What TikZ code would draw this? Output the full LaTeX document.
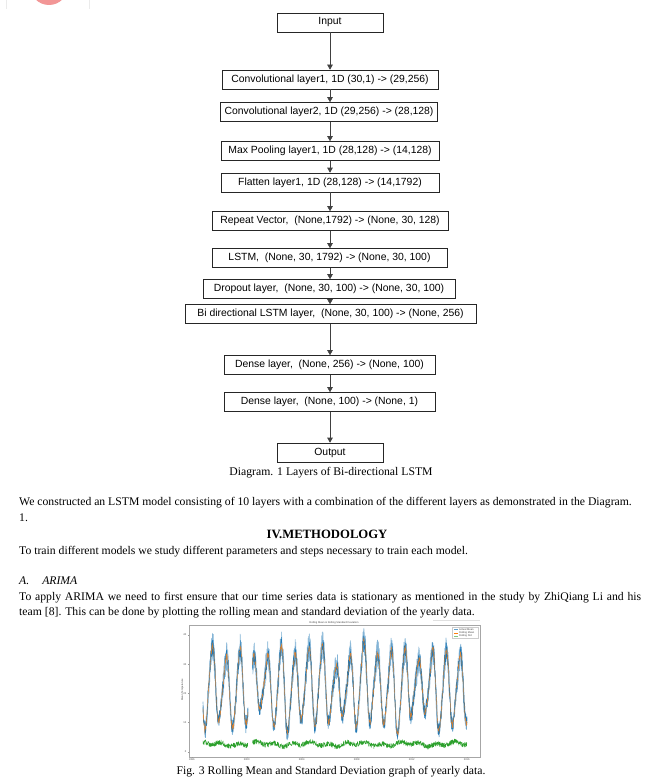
\documentclass[tikz,border=0pt]{standalone}
\usepackage{fontspec}
\setmainfont{Liberation Serif}
\newfontfamily\arialf{Liberation Sans}
\usetikzlibrary{arrows.meta}
\definecolor{cblue}{HTML}{1F77B4}
\definecolor{corange}{HTML}{FF7F0E}
\definecolor{cgreen}{HTML}{2CA02C}
\definecolor{logopink}{RGB}{242,150,150}
\begin{document}
\begin{tikzpicture}[x=1pt,y=-1pt,
  declare function={tb(\t)=\t-191.7;
    wav(\t)=22-(12+2.5*sin(tb(\t)*9.1)+1.5*sin(tb(\t)*4.3))*cos(tb(\t)*26.1818)+1.5*sin(tb(\t)*52.3636)+1.2*sin(tb(\t)*6.7);
    yv(\v)=751.7-2.92*\v;},
  layer/.style={draw=black!85, line width=0.6pt, font=\arialf\fontsize{10.4}{12}\selectfont, inner sep=0pt, minimum height=19pt, anchor=center},
  flow/.style={draw=black!75, line width=0.6pt, -{Triangle[length=5pt,width=5.5pt]}},
  body/.style={font=\fontsize{11.7}{13.5}\selectfont, anchor=base west, inner sep=0pt},
  captxt/.style={font=\fontsize{11.7}{13.5}\selectfont, inner sep=0pt, anchor=base},
  tinytxt/.style={font=\arialf\fontsize{2.6}{3}\selectfont, inner sep=0pt, text=black!70}]
\useasboundingbox (0,0) rectangle (662,784);
\fill[white] (0,0) rectangle (662,784);
% logo remnant
\begin{scope}
\clip (0,0) rectangle (662,9);
\draw[black!8, line width=0.5pt] (6,-5) rectangle (89,9);
\fill[logopink] (49,-14) circle (19);
\end{scope}
% layers
\node[layer, minimum width=106pt] (in) at (330,22.5) {Input};
\node[layer, minimum width=216pt] (c1) at (330,79.5) {Convolutional layer1, 1D (30,1) -> (29,256)};
\node[layer, minimum width=217pt] (c2) at (329,112) {Convolutional layer2, 1D (29,256) -> (28,128)};
\node[layer, minimum width=218pt] (mp) at (330,151) {Max Pooling layer1, 1D (28,128) -> (14,128)};
\node[layer, minimum width=218pt] (fl) at (330,182.5) {Flatten layer1, 1D (28,128) -> (14,1792)};
\node[layer, minimum width=236pt] (rv) at (330,221) {Repeat Vector,\ \ (None,1792) -> (None, 30, 128)};
\node[layer, minimum width=235pt] (ls) at (329.5,258) {LSTM,\ \ (None, 30, 1792) -> (None, 30, 100)};
\node[layer, minimum width=252pt] (dr) at (329,289) {Dropout layer,\ \ (None, 30, 100) -> (None, 30, 100)};
\node[layer, minimum width=291pt] (bi) at (330.5,314) {Bi directional LSTM layer,\ \ (None, 30, 100) -> (None, 256)};
\node[layer, minimum width=211pt] (d1) at (329.5,365) {Dense layer,\ \ (None, 256) -> (None, 100)};
\node[layer, minimum width=211pt] (d2) at (329.5,402) {Dense layer,\ \ (None, 100) -> (None, 1)};
\node[layer, minimum width=106pt] (out) at (330,452.5) {Output};
\foreach \a/\b in {in/c1,c1/c2,c2/mp,mp/fl,fl/rv,rv/ls,ls/dr,dr/bi,bi/d1,d1/d2,d2/out}
  \draw[flow] (\a.south -| in.south) -- (in.south |- \b.north);
\node[captxt] (cap1) at (331,475) {Diagram. 1 Layers of Bi-directional LSTM};
% body text
\node[body] (t1) at (19,505) {We constructed an LSTM model consisting of 10 layers with a combination of the different layers as demonstrated in the Diagram.};
\node[body] (t2) at (19,521) {1.};
\node[font=\bfseries\fontsize{12.7}{14}\selectfont, inner sep=0pt, anchor=base] (h1) at (327,538.5) {IV.METHODOLOGY};
\node[body] (t3) at (19,554) {To train different models we study different parameters and steps necessary to train each model.};
\node[body] (t4) at (19,584) {\textit{A.}\hspace{13pt}\textit{ARIMA}};
\node[body] (t5) at (19,600) {\makebox[622pt][s]{To apply ARIMA we need to first ensure that our time series data is stationary as mentioned in the study by ZhiQiang Li and his}};
\node[body] (t6) at (19,615.5) {team [8]. This can be done by plotting the rolling mean and standard deviation of the yearly data.};
% chart
\draw[black!12, line width=0.6pt] (433,620) -- (480,620);
\draw[black!35, line width=0.4pt] (189,625) rectangle (480,757);
\node[tinytxt] (ctitle) at (334,622.5) {Rolling Mean \& Rolling Standard Deviation};
\foreach \v/\yy in {0/751.7,10/722.5,20/693.3,30/664.1,40/634.9}{
  \draw[black!40, line width=0.2pt] (189,\yy) -- (187.8,\yy);
  \node[tinytxt, anchor=east] at (186.5,\yy) {\v};
}
\foreach \yr/\xx in {1996/191.7,2000/246.7,2004/301.7,2008/356.7,2012/411.7,2016/466.7}{
  \draw[black!40, line width=0.2pt] (\xx,757) -- (\xx,758.2);
  \node[tinytxt, anchor=north] at (\xx,758.8) {\yr};
}
\node[tinytxt, rotate=90] (ylab) at (182.5,690) {Mean Temperature};
\pgfmathsetseed{11}
\begin{scope}
\clip (189.3,625.3) rectangle (479.7,756.7);
\foreach \da/\db/\ns in {203/248/220, 252.5/467/1000}{
  \draw[cblue!40, line width=0.8pt, line join=round] plot[domain=\da:\db, samples=\ns] (\x,{yv(wav(\x)+(2+3*(1-cos(tb(\x)*26.1818))/2)*rand)});
  \draw[cblue!55!white, line width=0.6pt, line join=round] plot[domain=\da:\db, samples=\ns] (\x,{yv(wav(\x)+(2+3*(1-cos(tb(\x)*26.1818))/2)*rand)});
  \draw[cblue, line width=0.45pt, line join=round] plot[domain=\da:\db, samples=\ns] (\x,{yv(wav(\x)+3*rand)});
  \draw[corange, opacity=0.75, line width=0.4pt, line join=round] plot[domain=\da:\db, samples=\ns] (\x,{yv(wav(\x)+1.3*rand)});
  \draw[cgreen, line width=0.4pt, line join=round] plot[domain=\da:\db, samples=\ns] (\x,{yv(2.6+0.5*sin(\x*20)+0.4*sin(\x*7.3)+0.9*rand)});
}
\end{scope}
% legend
\draw[black!20, fill=white, line width=0.3pt] (452.5,627) rectangle (478.5,638.5);
\draw[cblue!70, line width=0.6pt] (454,629.5) -- (458,629.5);
\node[tinytxt, anchor=west] (lg1) at (459,629.5) {Actual Mean};
\draw[corange, line width=0.6pt] (454,632.8) -- (458,632.8);
\node[tinytxt, anchor=west] (lg2) at (459,632.8) {Rolling Mean};
\draw[cgreen!60, line width=0.6pt] (454,636.1) -- (458,636.1);
\node[tinytxt, anchor=west] (lg3) at (459,636.1) {Rolling Std};
\node[captxt] (cap2) at (331,774) {Fig. 3 Rolling Mean and Standard Deviation graph of yearly data.};
\end{tikzpicture}
\end{document}
